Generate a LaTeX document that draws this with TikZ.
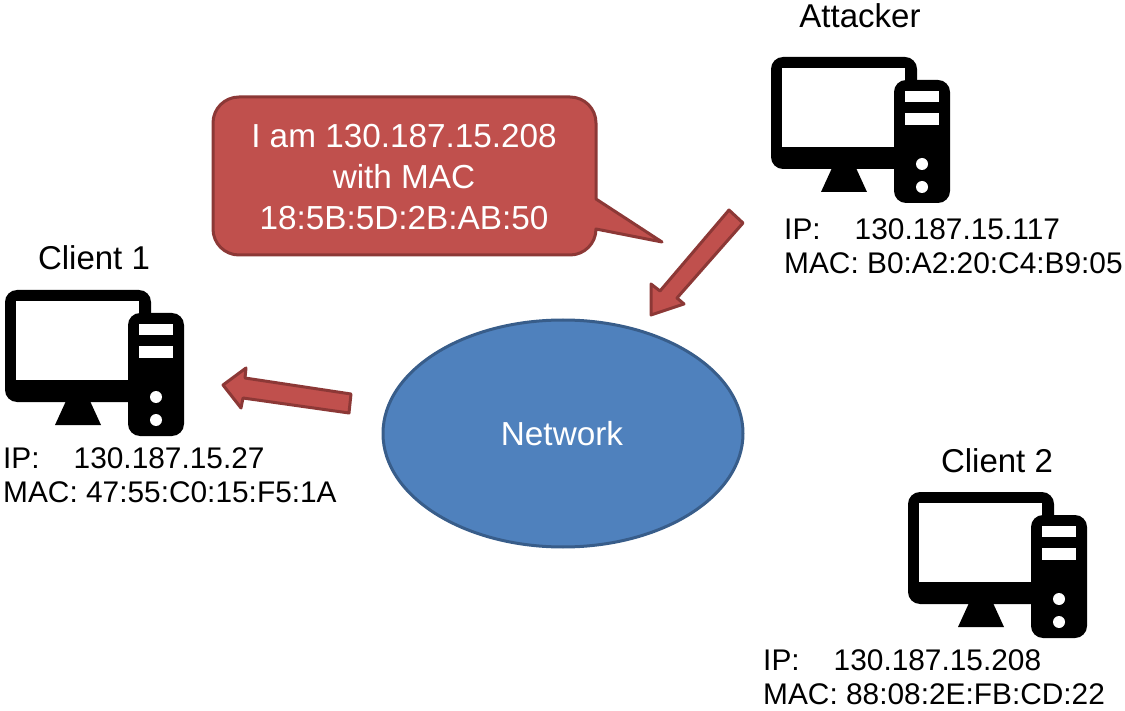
\documentclass[tikz,border=0pt]{standalone}
\usepackage{fontspec}
\setmainfont{Liberation Sans}
\usetikzlibrary{shapes.geometric}
\definecolor{redfill}{HTML}{C0504D}
\definecolor{redline}{HTML}{8C3836}
\definecolor{bluefill}{HTML}{4F81BD}
\definecolor{blueline}{HTML}{385D8A}
\tikzset{
  x=1pt,y=-1pt,
  redshape/.style={fill=redfill,draw=redline,line width=3pt,line join=round},
  titletext/.style={inner sep=0pt,anchor=base,font=\fontsize{33}{39}\selectfont},
  addrtext/.style={inner sep=0pt,anchor=north west,align=left,font=\fontsize{29.85}{34.5}\selectfont},
  whitetext/.style={inner sep=0pt,text=white,align=center,font=\fontsize{33.3}{41}\selectfont},
  computer/.pic={
    \fill[black,rounded corners=12pt] (0,0) rectangle (146,112);
    \fill[white] (11,11) rectangle (134,90);
    \fill[black,rounded corners=12pt] (123,23) rectangle (179,146);
    \fill[white] (134,34) rectangle (168,45);
    \fill[white] (134,56) rectangle (168,68);
    \fill[white] (151,107) circle[radius=6];
    \fill[white] (151,130) circle[radius=6];
    \fill[black] (61,111) -- (85,111) -- (96,135) -- (50,135) -- cycle;
  }
}
\begin{document}
\begin{tikzpicture}
\useasboundingbox (0,0) rectangle (1125,711);
% computers
\pic (attackerpc) at (771,57) {computer};
\pic (clientonepc) at (5,290) {computer};
\pic (clienttwopc) at (908,492) {computer};
% network
\node[ellipse,fill=bluefill,draw=blueline,line width=3pt,minimum width=360pt,minimum height=227pt,inner sep=0pt] (network) at (563,433.5) {};
\node[whitetext] (networklabel) at (562,433.5) {Network};
% speech bubble
\path[redshape]
  (239,97) -- (570,97) to[out=0,in=90] (596,123) -- (596,199) -- (662,242) -- (596,229) to[out=-90,in=0] (570,255) -- (239,255) to[out=180,in=-90] (213,229) -- (213,123) to[out=90,in=180] cycle;
\node[whitetext] (bubbletext) at (404,177) {I am 130.187.15.208\\with MAC\\18:5B:5D:2B:AB:50};
% block arrows
\path[redshape] (729,210) -- (743,223) -- (677,298) -- (684,304) -- (651,315) -- (651,284) -- (660,291) -- cycle;
\path[redshape] (351,394) -- (349,413) -- (243,398) -- (241,408) -- (223,385) -- (246,368) -- (245,378) -- cycle;
% labels
\node[titletext] (attackerlabel) at (860,28) {Attacker};
\node[titletext] (clientonelabel) at (94,270) {Client 1};
\node[titletext] (clienttwolabel) at (997,472) {Client 2};
\node[addrtext] (attackeraddr) at (784,218) {IP:\hspace{34pt}130.187.15.117\\MAC: B0:A2:20:C4:B9:05};
\node[addrtext] (clientoneaddr) at (3,447) {IP:\hspace{34pt}130.187.15.27\\MAC: 47:55:C0:15:F5:1A};
\node[addrtext] (clienttwoaddr) at (763,649) {IP:\hspace{34pt}130.187.15.208\\MAC: 88:08:2E:FB:CD:22};
\end{tikzpicture}
\end{document}
